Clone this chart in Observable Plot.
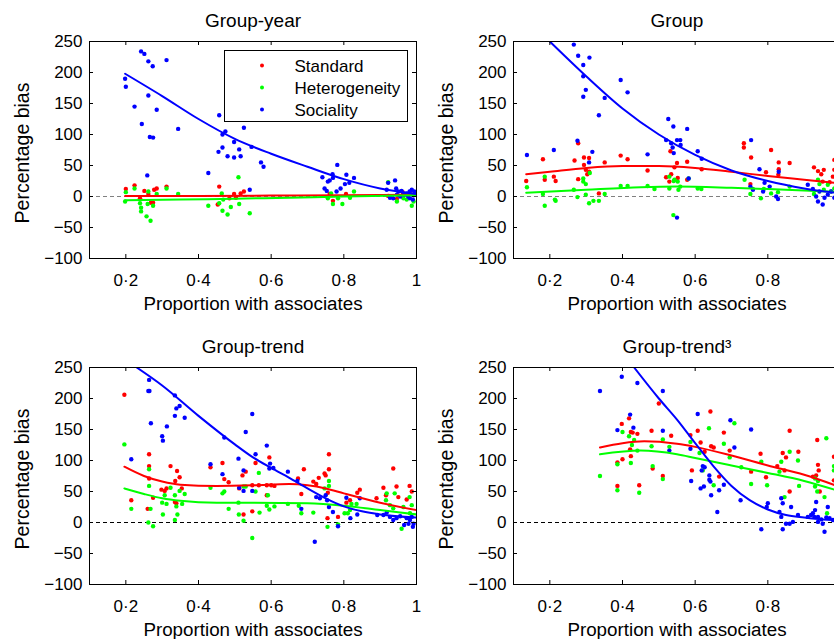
<!DOCTYPE html>
<html><head><meta charset="utf-8">
<script src="https://cdn.jsdelivr.net/npm/d3@7"></script>
<script src="https://cdn.jsdelivr.net/npm/@observablehq/plot@0.6"></script>
<style>
html,body{margin:0;padding:0;overflow:hidden;background:#fff;}
#wrap{position:relative;width:834px;height:639px;overflow:hidden;font-family:"Liberation Sans",Arial,Helvetica,sans-serif;}
.panel{position:absolute;width:417px;height:325px;}
.panel svg{overflow:visible;max-width:none !important;width:417px;height:325px;}
</style></head><body><div id="wrap"></div>
<script>
// ---------- shared labels / ticks ----------
const seriesNames = ["Standard", "Heterogeneity", "Sociality"];
const seriesColors = ["#ff0000", "#00ff00", "#0000ff"];
const xTicks = [0.2, 0.4, 0.6, 0.8, 1];
const xTickLabels = ["0·2", "0·4", "0·6", "0·8", "1"];
const yTicks = [-100, -50, 0, 50, 100, 150, 200, 250];
const xLabel = "Proportion with associates";
const yLabel = "Percentage bias";
const titles = ["Group-year", "Group", "Group-trend", "Group-trend³"];

// ---------- Panel 1: Group-year ----------
const groupYearStandard = [[0.2,12],[0.224,18],[0.251,9],[0.262,4],[0.278,11],[0.285,13],[0.312,16],[0.269,-10],[0.275,-10],[0.239,-3],[0.457,16],[0.498,4],[0.516,5],[0.525,8],[0.453,-13],[0.503,-2],[0.485,-3],[0.77,-7],[0.806,4],[0.761,4],[0.946,-4],[0.962,7],[0.982,5],[0.994,4],[0.922,1]];
const groupYearHeterogeneity = [[0.2,7],[0.198,-8],[0.224,13],[0.239,-11],[0.242,-18],[0.242,-24],[0.257,-32],[0.268,-39],[0.262,8],[0.26,-12],[0.275,-15],[0.285,4],[0.312,13],[0.344,4],[0.427,-15],[0.457,-11],[0.464,5],[0.466,-23],[0.48,-29],[0.489,-17],[0.512,-12],[0.51,31],[0.541,-27],[0.468,-5],[0.756,-3],[0.77,-12],[0.796,-12],[0.784,-3],[0.817,-2],[0.828,8],[0.765,5],[0.922,23],[0.946,-8],[0.987,-15],[0.992,-8],[0.973,-5],[0.964,-3]];
const groupYearSociality = [[0.242,234],[0.251,230],[0.262,218],[0.274,210],[0.312,220],[0.198,190],[0.2,177],[0.262,163],[0.224,145],[0.285,140],[0.244,117],[0.266,96],[0.275,95],[0.344,109],[0.259,34],[0.427,38],[0.457,131],[0.474,105],[0.466,100],[0.455,72],[0.466,79],[0.48,65],[0.498,88],[0.498,63],[0.512,76],[0.516,65],[0.525,111],[0.546,80],[0.541,11],[0.572,55],[0.579,48],[0.741,31],[0.747,13],[0.756,24],[0.761,26],[0.769,36],[0.77,30],[0.782,51],[0.791,13],[0.803,20],[0.807,35],[0.815,22],[0.828,30],[0.78,8],[0.753,9],[0.918,11],[0.922,22],[0.941,26],[0.944,13],[0.95,8],[0.927,-2],[0.936,-3],[0.959,9],[0.964,3],[0.973,5],[0.981,8],[0.987,11],[0.992,2],[0.99,-5],[0.994,8],[0.977,0],[0.968,4],[0.946,3],[0.955,0],[0.982,-3]];
const groupYearStandardFit = [[0.198,1],[0.4,1],[0.6,1.5],[0.8,2],[1.0,3]];
const groupYearHeterogeneityFit = [[0.198,-6],[0.35,-5],[0.5,-3.5],[0.65,-2],[0.8,0],[1.0,2]];
const groupYearSocialityFit = [[0.198,198],[0.3,162],[0.4,125],[0.5,93],[0.6,69],[0.7,48],[0.8,28],[0.9,13],[1.0,4]];

// ---------- Panel 2: Group ----------
const groupStandard = [[0.135,25],[0.181,60],[0.186,27],[0.211,32],[0.216,25],[0.268,58],[0.278,86],[0.278,28],[0.294,63],[0.294,51],[0.299,43],[0.303,36],[0.308,62],[0.308,40],[0.351,55],[0.335,5],[0.395,66],[0.414,60],[0.469,42],[0.532,73],[0.52,31],[0.529,24],[0.534,36],[0.55,54],[0.543,47],[0.552,30],[0.578,56],[0.578,27],[0.618,44],[0.734,86],[0.734,79],[0.754,63],[0.752,20],[0.795,39],[0.809,75],[0.83,55],[0.83,44],[0.829,35],[0.86,54],[0.927,47],[0.938,41],[0.947,36],[0.954,43],[0.951,24],[0.97,23],[0.983,59],[0.983,43],[0.979,32]];
const groupHeterogeneity = [[0.137,15],[0.181,4],[0.186,32],[0.186,-15],[0.214,-5],[0.216,-7],[0.266,11],[0.276,-1],[0.292,29],[0.292,24],[0.299,20],[0.31,38],[0.299,3],[0.308,-11],[0.32,-7],[0.335,-7],[0.351,4],[0.395,17],[0.414,17],[0.469,17],[0.488,12],[0.529,32],[0.54,-30],[0.541,25],[0.529,13],[0.543,27],[0.552,24],[0.559,16],[0.554,11],[0.582,29],[0.607,13],[0.617,12],[0.736,27],[0.752,4],[0.759,12],[0.781,-3],[0.789,12],[0.809,5],[0.828,7],[0.86,16],[0.927,4],[0.938,27],[0.942,20],[0.954,11],[0.965,19],[0.974,8],[0.983,13]];
const groupSociality = [[0.266,245],[0.278,227],[0.309,224],[0.292,212],[0.292,194],[0.299,172],[0.292,161],[0.351,159],[0.395,188],[0.414,168],[0.335,131],[0.137,67],[0.211,75],[0.276,90],[0.317,72],[0.308,55],[0.469,68],[0.526,125],[0.54,113],[0.52,91],[0.534,86],[0.538,79],[0.541,70],[0.55,91],[0.559,91],[0.56,83],[0.578,109],[0.607,73],[0.618,61],[0.582,29],[0.754,91],[0.777,44],[0.752,16],[0.759,11],[0.787,8],[0.791,22],[0.83,40],[0.823,0],[0.828,-4],[0.805,16],[0.55,-34],[0.91,19],[0.933,0],[0.938,-8],[0.951,-13],[0.956,-2],[0.965,3],[0.974,8],[0.983,-2],[0.942,8],[0.924,12]];
const groupStandardFit = [[0.135,36],[0.2,40],[0.3,46],[0.4,49],[0.5,49],[0.6,46],[0.7,40],[0.8,33],[0.9,27],[1.0,21]];
const groupHeterogeneityFit = [[0.135,6],[0.3,11],[0.45,15],[0.55,16],[0.7,14],[0.85,11],[1.0,7]];
const groupSocialityFit = [[0.2,250],[0.3,194],[0.4,142],[0.5,100],[0.6,67],[0.7,42],[0.8,25],[0.9,13],[1.0,5]];

// ---------- Panel 3: Group-trend ----------
const groupTrendStandard = [[0.196,206],[0.264,110],[0.264,91],[0.264,71],[0.215,36],[0.26,22],[0.275,40],[0.298,53],[0.307,51],[0.312,55],[0.323,91],[0.336,67],[0.341,83],[0.348,73],[0.354,55],[0.339,31],[0.335,33],[0.433,89],[0.466,96],[0.471,70],[0.483,65],[0.512,55],[0.521,76],[0.53,82],[0.524,13],[0.548,18],[0.548,60],[0.557,96],[0.566,60],[0.588,60],[0.595,105],[0.6,60],[0.609,59],[0.588,44],[0.674,71],[0.683,46],[0.69,86],[0.716,66],[0.724,62],[0.731,72],[0.747,79],[0.75,76],[0.759,110],[0.759,86],[0.756,48],[0.755,7],[0.784,9],[0.807,32],[0.817,36],[0.837,48],[0.844,53],[0.89,39],[0.909,56],[0.916,44],[0.936,87],[0.945,58],[0.95,41],[0.981,59],[0.987,50],[0.973,37]];
const groupTrendHeterogeneity = [[0.196,126],[0.264,86],[0.264,59],[0.215,22],[0.262,0],[0.275,-6],[0.268,22],[0.3,32],[0.307,44],[0.312,30],[0.302,13],[0.323,56],[0.335,44],[0.339,26],[0.342,13],[0.335,4],[0.348,51],[0.355,30],[0.362,46],[0.433,56],[0.466,47],[0.471,50],[0.483,22],[0.51,32],[0.511,13],[0.524,58],[0.524,3],[0.53,58],[0.548,-25],[0.566,80],[0.557,50],[0.568,16],[0.588,27],[0.595,21],[0.609,26],[0.591,44],[0.646,30],[0.676,27],[0.683,15],[0.716,16],[0.747,55],[0.759,67],[0.759,59],[0.755,-7],[0.784,-3],[0.802,15],[0.811,15],[0.817,20],[0.821,30],[0.835,30],[0.918,47],[0.916,36],[0.927,28],[0.936,23],[0.94,47],[0.959,-10],[0.981,41],[0.987,28],[0.982,15],[0.964,25]];
const groupTrendSociality = [[0.264,230],[0.262,212],[0.265,212],[0.335,205],[0.339,184],[0.348,188],[0.335,172],[0.362,169],[0.269,160],[0.313,155],[0.3,139],[0.302,132],[0.215,102],[0.433,94],[0.466,78],[0.471,137],[0.53,146],[0.548,175],[0.51,103],[0.524,84],[0.512,56],[0.524,51],[0.548,51],[0.557,110],[0.588,124],[0.595,87],[0.606,88],[0.597,95],[0.646,82],[0.672,67],[0.683,22],[0.724,41],[0.734,39],[0.75,44],[0.754,36],[0.759,25],[0.77,17],[0.784,-6],[0.72,-31],[0.807,40],[0.818,7],[0.844,39],[0.837,13],[0.909,12],[0.918,16],[0.927,9],[0.936,4],[0.945,7],[0.955,10],[0.966,-4],[0.978,-2],[0.982,4],[0.987,9],[0.992,-2],[0.99,-7],[0.973,7],[0.892,12]];
const groupTrendStandardFit = [[0.196,90],[0.25,75],[0.3,66],[0.35,61],[0.45,59],[0.55,60],[0.65,62],[0.7,60],[0.75,55],[0.8,47],[0.9,32],[1.0,20]];
const groupTrendHeterogeneityFit = [[0.196,55],[0.25,46],[0.3,39],[0.35,35],[0.45,32],[0.55,32],[0.7,31],[0.8,27],[0.9,20],[1.0,13]];
const groupTrendSocialityFit = [[0.23,250],[0.3,221],[0.4,172],[0.5,126],[0.55,105],[0.6,88],[0.65,72],[0.7,55],[0.75,39],[0.8,26],[0.85,18],[0.9,13],[1.0,8]];

// ---------- Panel 4: Group-trend^3 ----------
const groupTrend3Standard = [[0.398,159],[0.418,168],[0.423,146],[0.428,145],[0.441,143],[0.5,192],[0.48,148],[0.534,140],[0.421,118],[0.423,107],[0.4,102],[0.386,97],[0.483,87],[0.511,75],[0.386,59],[0.446,60],[0.587,141],[0.607,148],[0.642,179],[0.615,129],[0.626,114],[0.644,123],[0.651,121],[0.679,145],[0.695,116],[0.591,84],[0.666,74],[0.754,82],[0.78,111],[0.795,73],[0.826,91],[0.841,112],[0.85,105],[0.846,84],[0.86,148],[0.86,50],[0.884,114],[0.924,74],[0.936,133],[0.938,93],[0.94,84],[0.943,50],[0.933,76],[0.982,106],[0.982,68]];
const groupTrend3Heterogeneity = [[0.338,75],[0.386,52],[0.386,94],[0.4,146],[0.418,139],[0.426,125],[0.432,133],[0.441,116],[0.423,96],[0.446,48],[0.48,123],[0.483,91],[0.511,134],[0.511,70],[0.529,122],[0.587,130],[0.612,112],[0.621,84],[0.638,152],[0.708,160],[0.679,127],[0.695,105],[0.651,60],[0.727,89],[0.754,62],[0.782,98],[0.798,60],[0.837,98],[0.832,82],[0.846,41],[0.86,114],[0.883,100],[0.886,59],[0.93,71],[0.938,67],[0.93,58],[0.936,50],[0.961,136],[0.956,41],[0.963,15],[0.982,91],[0.982,84]];
const groupTrend3Sociality = [[0.338,212],[0.398,235],[0.441,225],[0.511,212],[0.421,174],[0.43,153],[0.386,149],[0.511,148],[0.529,116],[0.607,175],[0.697,165],[0.754,150],[0.708,121],[0.587,119],[0.621,91],[0.626,89],[0.618,84],[0.639,76],[0.639,69],[0.642,66],[0.589,67],[0.615,55],[0.624,58],[0.679,61],[0.666,52],[0.644,44],[0.661,17],[0.725,36],[0.797,25],[0.8,31],[0.782,-11],[0.837,39],[0.841,31],[0.832,17],[0.837,9],[0.841,-11],[0.85,-2],[0.86,-2],[0.869,1],[0.864,25],[0.883,12],[0.919,12],[0.924,15],[0.93,20],[0.933,33],[0.938,9],[0.947,5],[0.951,-2],[0.956,-15],[0.961,8],[0.965,25],[0.97,7],[0.979,4],[0.938,1],[0.928,9],[0.91,9]];
const groupTrend3StandardFit = [[0.338,121],[0.4,128],[0.46,131],[0.55,127],[0.6,122],[0.7,108],[0.8,92],[0.9,77],[1.0,57]];
const groupTrend3HeterogeneityFit = [[0.338,110],[0.45,116],[0.55,110],[0.6,104],[0.7,92],[0.8,80],[0.9,67],[1.0,50]];
const groupTrend3SocialityFit = [[0.432,250],[0.5,200],[0.55,166],[0.6,128],[0.65,91],[0.7,59],[0.75,36],[0.8,21],[0.85,12],[0.9,8],[0.95,5],[1.0,4]];

// ---------- drawing ----------
const FONT = '"Liberation Sans", Arial, Helvetica, sans-serif';
const FRAME_W = 327, FRAME_H = 217;

function toRows(seriesArrays) {
  const rows = [];
  seriesArrays.forEach((arr, i) => arr.forEach(([x, y]) => rows.push({x, y, s: seriesNames[i]})));
  return rows;
}

// labelTicks: which tick values get a label (the right column's "1" falls outside the window)
function makePanel(title, points, fits, zeroStroke, labelTicks) {
  const pts = toRows(points);
  const lns = toRows(fits);
  return Plot.plot({
    width: 417, height: 325,
    marginLeft: 89, marginRight: 1, marginTop: 41, marginBottom: 67,
    style: {fontFamily: FONT, fontSize: "17px", background: "transparent", color: "black"},
    x: {domain: [0.1, 1], axis: null, label: null},
    y: {domain: [-100, 250], axis: null, label: null},
    color: {domain: seriesNames, range: seriesColors},
    marks: [
      Plot.ruleY([0], {stroke: zeroStroke, strokeDasharray: "4,3", strokeWidth: 1}),
      Plot.dot(pts, {x: "x", y: "y", fill: "s", r: 2.2, clip: true}),
      Plot.line(lns, {x: "x", y: "y", stroke: "s", z: "s", strokeWidth: 2, curve: "monotone-x", clip: true}),
      Plot.frame({stroke: "black", strokeWidth: 1}),
      Plot.tickX(xTicks, {x: d => d, insetTop: FRAME_H - 4, stroke: "black"}),
      Plot.tickX(xTicks, {x: d => d, insetBottom: FRAME_H - 4, stroke: "black"}),
      Plot.tickY(yTicks, {y: d => d, insetRight: FRAME_W - 4, stroke: "black"}),
      Plot.tickY(yTicks, {y: d => d, insetLeft: FRAME_W - 4, stroke: "black"}),
      Plot.axisX({ticks: labelTicks, tickSize: 0, tickPadding: 15, label: null, fontSize: 17,
        tickFormat: d => xTickLabels[xTicks.indexOf(d)]}),
      Plot.axisY({ticks: yTicks, tickSize: 0, tickPadding: 7, label: null, fontSize: 17,
        tickFormat: d => d < 0 ? "\u2212" + Math.abs(d) : String(d)}),
      Plot.text([title], {text: d => d, frameAnchor: "top", lineAnchor: "middle", textAnchor: "middle", dy: -21, fontSize: 19}),
      Plot.text([xLabel], {text: d => d, frameAnchor: "bottom", lineAnchor: "middle", textAnchor: "middle", dy: 45.5, fontSize: 18.8}),
      Plot.text([yLabel], {text: d => d, frameAnchor: "left", lineAnchor: "middle", textAnchor: "middle", dx: -67, dy: 3, rotate: -90, fontSize: 19.5})
    ]
  });
}

const wrap = document.getElementById("wrap");
const rightTicks = xTicks.slice(0, 4);
const panels = [
  {title: titles[0], pts: [groupYearStandard, groupYearHeterogeneity, groupYearSociality],
   fits: [groupYearStandardFit, groupYearHeterogeneityFit, groupYearSocialityFit], left: 0, top: 0, zero: "#808080", lt: xTicks},
  {title: titles[1], pts: [groupStandard, groupHeterogeneity, groupSociality],
   fits: [groupStandardFit, groupHeterogeneityFit, groupSocialityFit], left: 424, top: 0, zero: "#808080", lt: rightTicks},
  {title: titles[2], pts: [groupTrendStandard, groupTrendHeterogeneity, groupTrendSociality],
   fits: [groupTrendStandardFit, groupTrendHeterogeneityFit, groupTrendSocialityFit], left: 0, top: 326, zero: "black", lt: xTicks},
  {title: titles[3], pts: [groupTrend3Standard, groupTrend3Heterogeneity, groupTrend3Sociality],
   fits: [groupTrend3StandardFit, groupTrend3HeterogeneityFit, groupTrend3SocialityFit], left: 424, top: 326, zero: "black", lt: rightTicks}
];
panels.forEach(p => {
  const div = document.createElement("div");
  div.className = "panel";
  div.style.left = p.left + "px";
  div.style.top = p.top + "px";
  div.appendChild(makePanel(p.title, p.pts, p.fits, p.zero, p.lt));
  wrap.appendChild(div);
});

// legend box inside the first panel
const leg = d3.select(wrap).append("svg")
  .attr("width", 185).attr("height", 73)
  .style("position", "absolute").style("left", "223.5px").style("top", "49.5px")
  .style("font-family", FONT);
leg.append("rect").attr("x", 0.5).attr("y", 0.5).attr("width", 183).attr("height", 71)
  .attr("fill", "white").attr("stroke", "black");
seriesNames.forEach((name, i) => {
  const cy = 15.5 + 22 * i;
  leg.append("circle").attr("cx", 38).attr("cy", cy).attr("r", 2).attr("fill", seriesColors[i]);
  leg.append("text").attr("x", 70.5).attr("y", cy + 6).attr("font-size", 17).attr("fill", "black").text(name);
});
</script>
</body></html>
